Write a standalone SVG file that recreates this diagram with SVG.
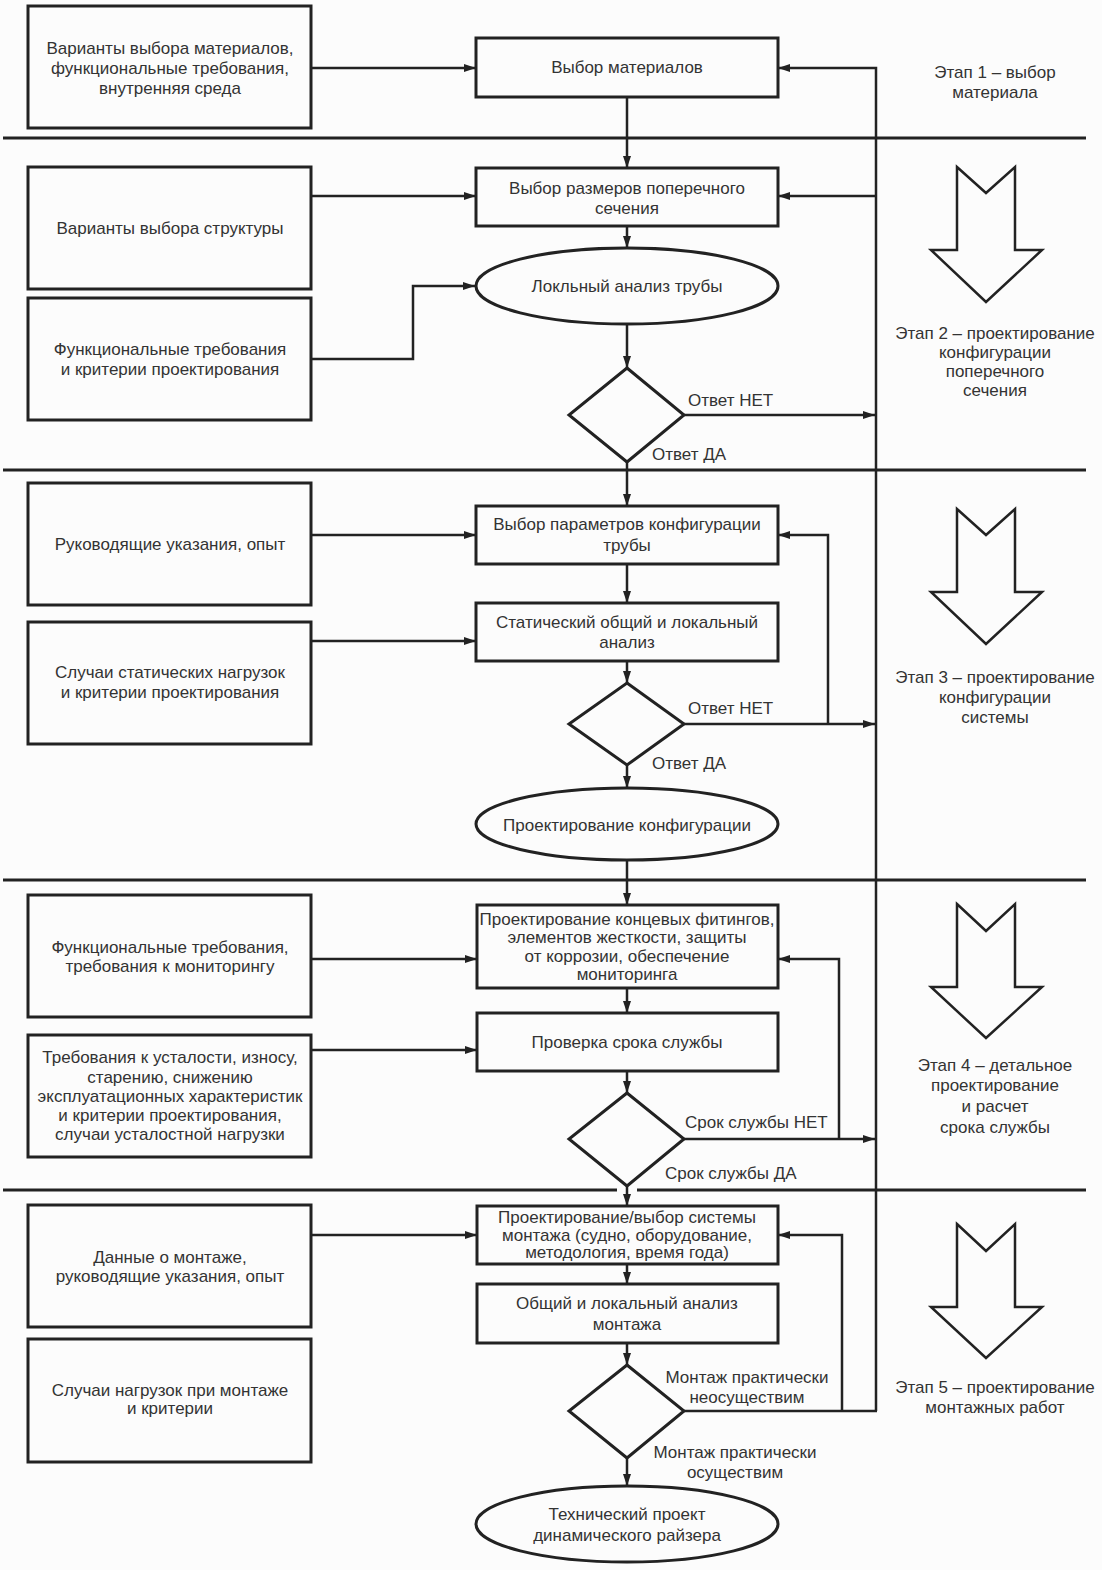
<svg xmlns="http://www.w3.org/2000/svg" width="1102" height="1570" viewBox="0 0 1102 1570">
<defs>
<style>
.bg{fill:#fcfcfc}
.box{fill:none;stroke:#222;stroke-width:3}
.stg{fill:none;stroke:#222;stroke-width:2.5;stroke-linejoin:miter}
.sep{stroke:#222;stroke-width:3;fill:none}
.ln{stroke:#222;stroke-width:2.5;fill:none}
.arr{stroke:#222;stroke-width:2.5;fill:none;marker-end:url(#ah)}
text{font-family:"Liberation Sans",Arial,sans-serif;font-size:17px;fill:#333}
.c{text-anchor:middle}
</style>
<marker id="ah" viewBox="0 0 12 8" refX="12" refY="4" markerWidth="12" markerHeight="8" markerUnits="userSpaceOnUse" orient="auto">
<path d="M0,0 L12,4 L0,8 Z" fill="#222"/>
</marker>
</defs>
<rect class="bg" x="0" y="0" width="1102" height="1570"/>

<g id="separators">
<line class="sep" x1="3" y1="138" x2="1086" y2="138"/>
<line class="sep" x1="3" y1="470" x2="1086" y2="470"/>
<line class="sep" x1="3" y1="880" x2="1086" y2="880"/>
<line class="sep" x1="3" y1="1190" x2="617" y2="1190"/>
<line class="sep" x1="637" y1="1190" x2="1086" y2="1190"/>
</g>

<g id="connectors">
<line class="arr" x1="311" y1="68" x2="476" y2="68"/>
<line class="arr" x1="627" y1="97" x2="627" y2="168"/>
<line class="arr" x1="311" y1="196" x2="476" y2="196"/>
<line class="arr" x1="627" y1="226" x2="627" y2="248"/>
<polyline class="arr" points="311,359 413,359 413,286 475,286"/>
<line class="arr" x1="627" y1="325" x2="627" y2="368"/>
<line class="arr" x1="684" y1="415" x2="875" y2="415"/>
<line class="arr" x1="627" y1="462" x2="627" y2="506"/>
<polyline class="arr" points="876,1411 876,68 778,68"/>
<line class="arr" x1="876" y1="196" x2="778" y2="196"/>
<line class="arr" x1="311" y1="535" x2="476" y2="535"/>
<line class="arr" x1="627" y1="564" x2="627" y2="603"/>
<line class="arr" x1="311" y1="641" x2="476" y2="641"/>
<line class="arr" x1="627" y1="661" x2="627" y2="683"/>
<line class="arr" x1="684" y1="724" x2="875" y2="724"/>
<polyline class="arr" points="828,724 828,535 778,535"/>
<line class="arr" x1="627" y1="765" x2="627" y2="788"/>
<line class="arr" x1="627" y1="860" x2="627" y2="905"/>
<line class="arr" x1="311" y1="959" x2="477" y2="959"/>
<line class="arr" x1="627" y1="988" x2="627" y2="1013"/>
<line class="arr" x1="311" y1="1050" x2="477" y2="1050"/>
<line class="arr" x1="627" y1="1071" x2="627" y2="1093"/>
<line class="arr" x1="684" y1="1139" x2="875" y2="1139"/>
<polyline class="arr" points="839,1139 839,959 778,959"/>
<line class="arr" x1="627" y1="1186" x2="627" y2="1206"/>
<line class="arr" x1="311" y1="1235" x2="477" y2="1235"/>
<line class="arr" x1="627" y1="1264" x2="627" y2="1284"/>
<line class="arr" x1="627" y1="1343" x2="627" y2="1365"/>
<line class="ln" x1="684" y1="1411" x2="877" y2="1411"/>
<polyline class="arr" points="842,1411 842,1235 778,1235"/>
<line class="arr" x1="627" y1="1458" x2="627" y2="1486"/>
<text x="688" y="406">Ответ НЕТ</text>
<text x="652" y="460">Ответ ДА</text>
<text x="688" y="714">Ответ НЕТ</text>
<text x="652" y="769">Ответ ДА</text>
<text x="685" y="1128">Срок службы НЕТ</text>
<text x="665" y="1179">Срок службы ДА</text>
<text class="c" x="747" y="1383">Монтаж практически</text>
<text class="c" x="747" y="1403">неосуществим</text>
<text class="c" x="735" y="1458">Монтаж практически</text>
<text class="c" x="735" y="1478">осуществим</text>
</g>

<g id="in1"><rect class="box" x="28" y="6" width="283" height="122"/>
<text class="c" x="170" y="54">Варианты выбора материалов,</text>
<text class="c" x="170" y="74">функциональные требования,</text>
<text class="c" x="170" y="94">внутренняя среда</text></g>
<g id="in2"><rect class="box" x="28" y="167" width="283" height="122"/>
<text class="c" x="170" y="234">Варианты выбора структуры</text></g>
<g id="in3"><rect class="box" x="28" y="298" width="283" height="122"/>
<text class="c" x="170" y="355">Функциональные требования</text>
<text class="c" x="170" y="375">и критерии проектирования</text></g>
<g id="in4"><rect class="box" x="28" y="483" width="283" height="122"/>
<text class="c" x="170" y="550">Руководящие указания, опыт</text></g>
<g id="in5"><rect class="box" x="28" y="622" width="283" height="122"/>
<text class="c" x="170" y="678">Случаи статических нагрузок</text>
<text class="c" x="170" y="698">и критерии проектирования</text></g>
<g id="in6"><rect class="box" x="28" y="895" width="283" height="122"/>
<text class="c" x="170" y="953">Функциональные требования,</text>
<text class="c" x="170" y="972">требования к мониторингу</text></g>
<g id="in7"><rect class="box" x="28" y="1035" width="283" height="122"/>
<text class="c" x="170" y="1063">Требования к усталости, износу,</text>
<text class="c" x="170" y="1083">старению, снижению</text>
<text class="c" x="170" y="1102">эксплуатационных характеристик</text>
<text class="c" x="170" y="1121">и критерии проектирования,</text>
<text class="c" x="170" y="1140">случаи усталостной нагрузки</text></g>
<g id="in8"><rect class="box" x="28" y="1205" width="283" height="122"/>
<text class="c" x="170" y="1263">Данные о монтаже,</text>
<text class="c" x="170" y="1282">руководящие указания, опыт</text></g>
<g id="in9"><rect class="box" x="28" y="1339" width="283" height="123"/>
<text class="c" x="170" y="1396">Случаи нагрузок при монтаже</text>
<text class="c" x="170" y="1414">и критерии</text></g>

<g id="n1"><rect class="box" x="476" y="38" width="302" height="59"/>
<text class="c" x="627" y="73">Выбор материалов</text></g>
<g id="n2"><rect class="box" x="476" y="168" width="302" height="58"/>
<text class="c" x="627" y="194">Выбор размеров поперечного</text>
<text class="c" x="627" y="214">сечения</text></g>
<g id="n3"><ellipse class="box" cx="627" cy="286" rx="151" ry="38"/>
<text class="c" x="627" y="292">Локльный анализ трубы</text></g>
<g id="d1"><polygon class="box" points="627,368 684,415 627,462 569,415"/></g>
<g id="n4"><rect class="box" x="476" y="506" width="302" height="58"/>
<text class="c" x="627" y="530">Выбор параметров конфигурации</text>
<text class="c" x="627" y="551">трубы</text></g>
<g id="n5"><rect class="box" x="476" y="603" width="302" height="58"/>
<text class="c" x="627" y="628">Статический общий и локальный</text>
<text class="c" x="627" y="648">анализ</text></g>
<g id="d2"><polygon class="box" points="627,683 684,724 627,765 569,724"/></g>
<g id="n6"><ellipse class="box" cx="627" cy="824" rx="151" ry="36"/>
<text class="c" x="627" y="831">Проектирование конфигурации</text></g>
<g id="n7"><rect class="box" x="477" y="905" width="301" height="83"/>
<text class="c" x="627" y="925">Проектирование концевых фитингов,</text>
<text class="c" x="627" y="943">элементов жесткости, защиты</text>
<text class="c" x="627" y="962">от коррозии, обеспечение</text>
<text class="c" x="627" y="980">мониторинга</text></g>
<g id="n8"><rect class="box" x="477" y="1013" width="301" height="58"/>
<text class="c" x="627" y="1048">Проверка срока службы</text></g>
<g id="d3"><polygon class="box" points="627,1093 684,1139 627,1186 569,1139"/></g>
<g id="n9"><rect class="box" x="477" y="1206" width="301" height="58"/>
<text class="c" x="627" y="1223">Проектирование/выбор системы</text>
<text class="c" x="627" y="1241">монтажа (судно, оборудование,</text>
<text class="c" x="627" y="1258">методология, время года)</text></g>
<g id="n10"><rect class="box" x="477" y="1284" width="301" height="59"/>
<text class="c" x="627" y="1309">Общий и локальный анализ</text>
<text class="c" x="627" y="1330">монтажа</text></g>
<g id="d4"><polygon class="box" points="627,1365 684,1411 627,1458 569,1411"/></g>
<g id="n11"><ellipse class="box" cx="627" cy="1524" rx="151" ry="38"/>
<text class="c" x="627" y="1520">Технический проект</text>
<text class="c" x="627" y="1541">динамического райзера</text></g>

<g id="stage1"><text class="c" x="995" y="78">Этап 1 – выбор</text>
<text class="c" x="995" y="98">материала</text></g>
<g id="stage2"><polygon class="stg" points="957,167 986,193 1015,167 1015,250 1042,250 986,302 931,250 957,250"/>
<text class="c" x="995" y="339">Этап 2 – проектирование</text>
<text class="c" x="995" y="358">конфигурации</text>
<text class="c" x="995" y="377">поперечного</text>
<text class="c" x="995" y="396">сечения</text></g>
<g id="stage3"><polygon class="stg" points="957,509 986,535 1015,509 1015,592 1042,592 986,644 931,592 957,592"/>
<text class="c" x="995" y="683">Этап 3 – проектирование</text>
<text class="c" x="995" y="703">конфигурации</text>
<text class="c" x="995" y="723">системы</text></g>
<g id="stage4"><polygon class="stg" points="957,904 986,931 1015,904 1015,987 1042,987 986,1038 931,987 957,987"/>
<text class="c" x="995" y="1071">Этап 4 – детальное</text>
<text class="c" x="995" y="1091">проектирование</text>
<text class="c" x="995" y="1112">и расчет</text>
<text class="c" x="995" y="1133">срока службы</text></g>
<g id="stage5"><polygon class="stg" points="957,1224 986,1251 1015,1224 1015,1307 1042,1307 986,1358 931,1307 957,1307"/>
<text class="c" x="995" y="1393">Этап 5 – проектирование</text>
<text class="c" x="995" y="1413">монтажных работ</text></g>
</svg>
